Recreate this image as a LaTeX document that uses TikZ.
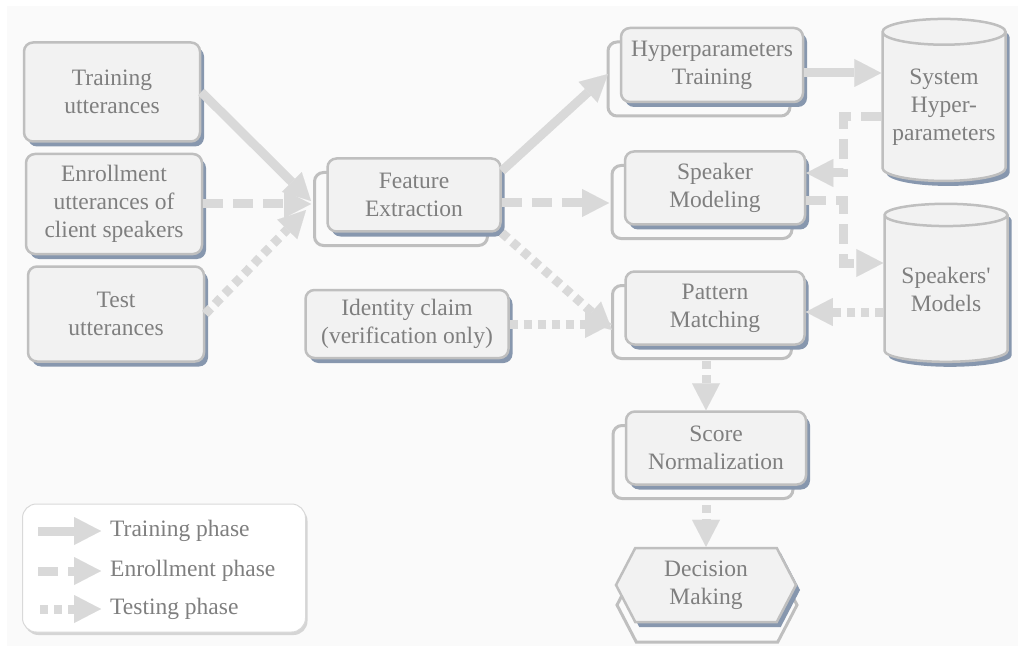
\documentclass[tikz,border=0pt]{standalone}
\usepackage{fontspec}
\setmainfont{Liberation Serif}
\usepackage{tikz}
\usetikzlibrary{arrows.meta,shapes.geometric,shapes.symbols,shadows}
\definecolor{boxfill}{HTML}{F2F2F2}
\definecolor{boxline}{HTML}{BFBFBF}
\definecolor{boxshade}{HTML}{8797AE}
\definecolor{txtgray}{HTML}{7F7F7F}
\definecolor{arrgray}{HTML}{D9D9D9}
\definecolor{canvas}{HTML}{FAFAFA}
\tikzset{
  box/.style={draw=boxline, line width=2.5pt, fill=boxfill,
    rounded corners=9pt, align=center, text=txtgray,
    font=\fontsize{23.5}{28}\selectfont, inner sep=0pt,
    drop shadow={shadow xshift=4pt, shadow yshift=-5pt,
      fill=boxshade, opacity=1}},
  stack/.style={copy shadow={shadow xshift=-13pt, shadow yshift=-14pt,
      fill=none, draw=boxline, line width=3pt, opacity=1}, box},
  store/.style={box, sharp corners, cylinder, shape border rotate=90,
    aspect=0.25},
  decide/.style={copy shadow={shadow xshift=1pt, shadow yshift=-20pt,
      fill=none, draw=boxline, line width=3pt, opacity=1}, box,
    sharp corners, signal, signal to=west and east, signal pointer angle=125},
  flow/.style={draw=arrgray, line width=9pt,
    -{Triangle[length=27pt,width=28pt,line width=0.01pt]}},
  enrol/.style={flow, dash pattern=on 20pt off 10pt},
  test/.style={flow, dash pattern=on 8pt off 6pt},
  key/.style={anchor=west, inner sep=0pt, text=txtgray,
    font=\fontsize{23.5}{28}\selectfont},
}
\begin{document}
\begin{tikzpicture}[x=1pt,y=-1pt]
\useasboundingbox (0,0) rectangle (1024,652);
\fill[canvas] (7,6) rectangle (1018,646);

% inputs
\node[box, minimum width=176pt, minimum height=99pt] (train) at (112,92)
  {Training\\utterances};
\node[box, minimum width=176pt, minimum height=100pt] (enroll) at (114,204)
  {Enrollment\\utterances of\\client speakers};
\node[box, minimum width=176pt, minimum height=95pt] (test) at (116,314)
  {Test\\utterances};
\node[stack, minimum width=173pt, minimum height=73pt] (fe) at (414,195)
  {Feature\\Extraction};
\node[box, minimum width=203pt, minimum height=68pt] (idc) at (407,324)
  {Identity claim\\(verification only)};

% processing chain
\node[stack, minimum width=182pt, minimum height=74pt] (hyp) at (712,65)
  {Hyperparameters\\Training};
\node[stack, minimum width=180pt, minimum height=73pt] (spk) at (715,188)
  {Speaker\\Modeling};
\node[stack, minimum width=179pt, minimum height=73pt] (pm) at (715,308)
  {Pattern\\Matching};
\node[stack, minimum width=180pt, minimum height=73pt] (sn) at (716,448)
  {Score\\Normalization};
\node[decide, minimum width=180pt, minimum height=74pt] (dm) at (706,585)
  {Decision\\Making};

% storage
\node[store, minimum width=123pt, minimum height=162pt] (sys) at (944,107)
  {System\\Hyper-\\parameters};
\node[store, minimum width=123pt, minimum height=158pt] (mod) at (946,289)
  {Speakers\textquotesingle\\Models};

\coordinate (feIn) at (311,201);
\coordinate (feIn2) at (306,210);
\coordinate (hypIn) at (608,74);
\coordinate (spkIn) at (609,203);
\coordinate (pmIn) at (612,330);
\coordinate (hypOut) at (hyp.east |- 0,73);

\draw[flow] (train.east) -- (feIn);
\draw[enrol] (enroll.east) -- (enroll.east -| feIn);
\draw[test] (test.east) -- (feIn2);
\draw[flow] ([yshift=24pt]fe.east) -- (hypIn);
\draw[enrol] ([yshift=-8pt]fe.east) -- (spkIn);
\draw[test] (fe.south east) -- (pmIn);
\draw[test] (idc.east) -- (idc.east -| pmIn);
\draw[flow] (hypOut) -- (hypOut -| sys.west);
\draw[enrol] (sys.west |- 0,117) -| (843,173) -- (spk.east |- 0,173);
\draw[enrol] (spk.east |- 0,201) -| (843,263) -- (mod.west |- 0,263);
\draw[test] (mod.west |- 0,312) -- (pm.east |- 0,312);
\draw[test] (dm.north |- 0,361) -- (dm.north |- sn.north);
\draw[test] (dm.north |- 0,505) -- (dm.north);

% legend
\node[draw=black!15, line width=1pt, fill=white, rounded corners=14pt,
  minimum width=283pt, minimum height=128pt,
  drop shadow={shadow xshift=2pt, shadow yshift=-3pt, fill=black!30, opacity=.5}]
  (legend) at (164,568) {};
\node[key] (keyTrain) at (110,531) {Training phase};
\node[key] (keyEnrol) at (110,571) {Enrollment phase};
\node[key] (keyTest) at (110,609) {Testing phase};
\draw[flow] ([xshift=-72pt]keyTrain.west) -- ([xshift=-9pt]keyTrain.west);
\draw[enrol] ([xshift=-72pt]keyEnrol.west) -- ([xshift=-9pt]keyEnrol.west);
\draw[test] ([xshift=-70pt]keyTest.west) -- ([xshift=-9pt]keyTest.west);
\end{tikzpicture}
\end{document}
